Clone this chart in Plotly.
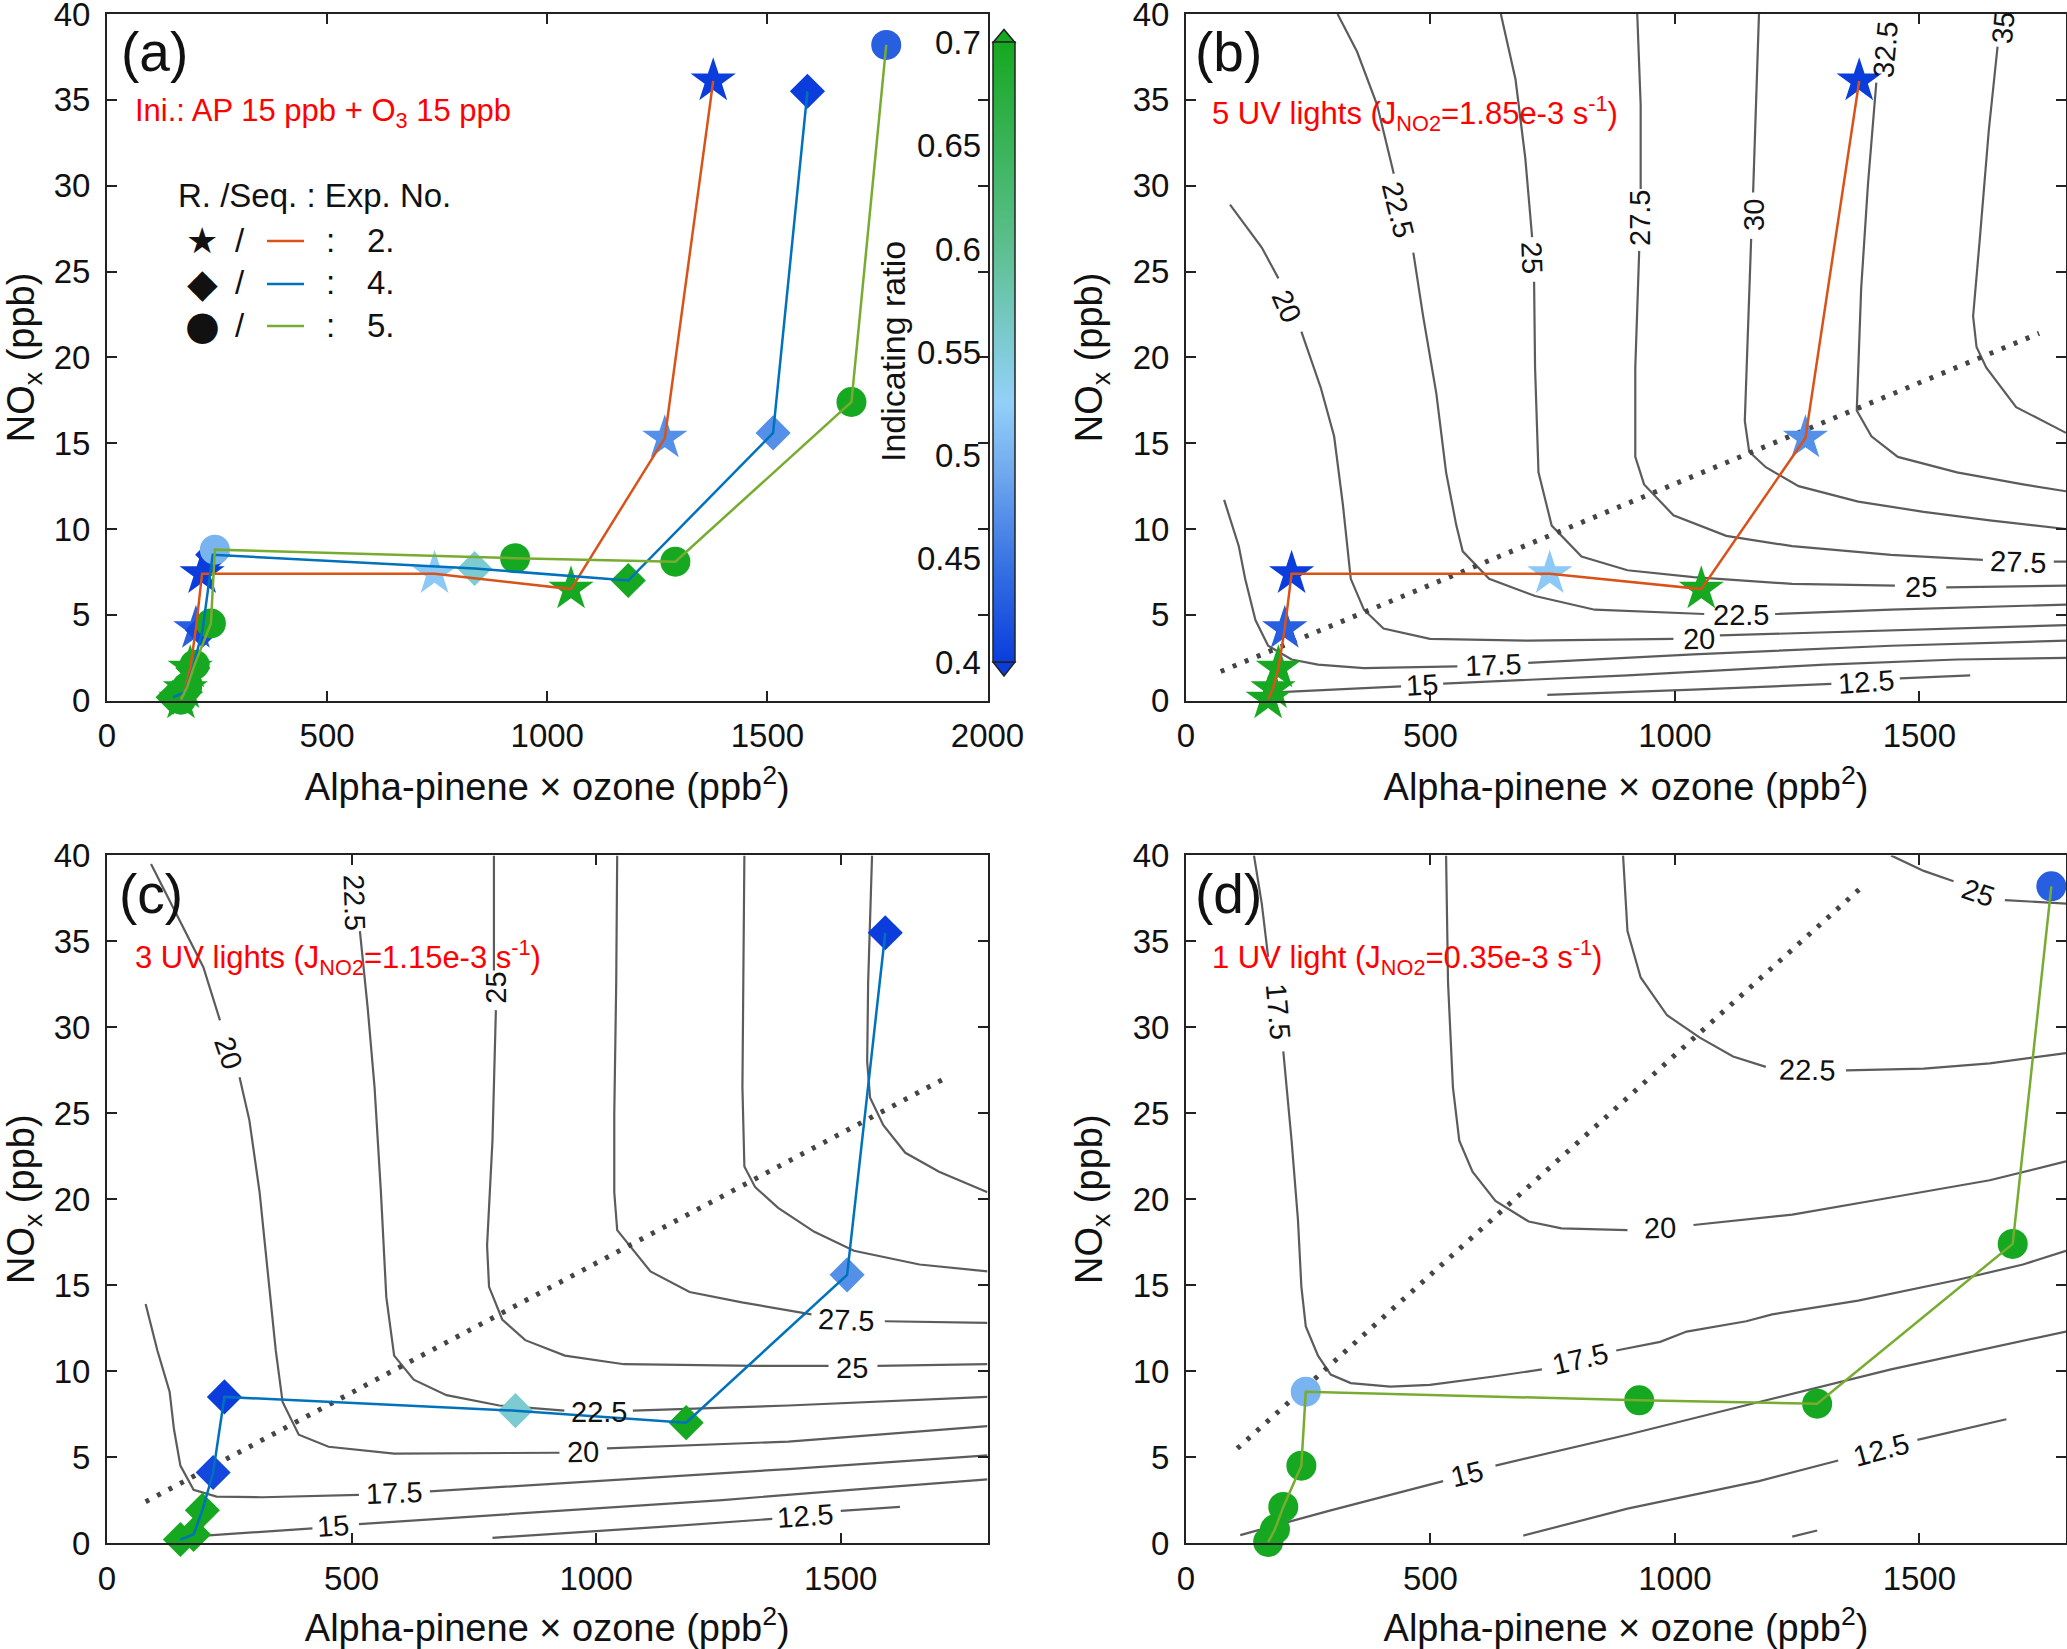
import plotly.graph_objects as go
from plotly.subplots import make_subplots

# ==============================================================================
# Daten
# ==============================================================================
# -- Exp. 2 (Sterne) -----------------------------------------------------------
exp2_x = [168, 178, 189, 202, 216, 744, 1054, 1267, 1377]
exp2_y = [0.1, 0.7, 1.9, 4.2, 7.4, 7.4, 6.5, 15.3, 36.1]
exp2_r = [0.70, 0.70, 0.70, 0.43, 0.40, 0.52, 0.70, 0.47, 0.40]

# -- Exp. 4 (Rauten) -----------------------------------------------------------
exp4_x = [150, 177, 195, 217, 240, 835, 1184, 1513, 1591]
exp4_y = [0.2, 0.5, 1.9, 4.1, 8.5, 7.7, 7.0, 15.6, 35.5]
exp4_r = [0.70, 0.70, 0.70, 0.41, 0.40, 0.555, 0.70, 0.47, 0.40]

# -- Exp. 5 (Kreise) -----------------------------------------------------------
exp5_x = [168, 182, 199, 236, 245, 927, 1291, 1691, 1770]
exp5_y = [0.06, 0.8, 2.1, 4.5, 8.8, 8.3, 8.1, 17.4, 38.2]
exp5_r = [0.70, 0.70, 0.70, 0.70, 0.50, 0.70, 0.70, 0.70, 0.43]

# -- Konturlinien Panel (b) (None = Lücke für Beschriftung) -------------------
b12_x = [739, 1038, 1320, None, 1460, 1604]
b12_y = [0.34, 0.64, 0.98, None, 1.3, 1.47]
b15_x = [168, 440, None, 526, 903, 1307, 1577, 1800]
b15_y = [0.46, 0.84, None, 1.0, 1.47, 2.1, 2.4, 2.5]
b17_x = [78, 108, 121, 142, 168, 216, 270, 364, 555, None, 700, 1038, 1442, 1800]
b17_y = [11.7, 9.0, 7.1, 4.7, 3.2, 2.4, 2.1, 1.9, 2.0, None, 2.2, 2.7, 3.2, 3.5]
b20_x = [90, 155, 189, None, 236, 276, 303, 321, 337, 364, 404, 499, 701, 997, None, 1092, 1442, 1800]
b20_y = [28.9, 26.4, 24.6, None, 21.5, 18.2, 15.4, 11.4, 7.1, 5.3, 4.2, 3.6, 3.5, 3.6, None, 3.8, 4.1, 4.4]
b22_x = [310, 350, 391, 425, None, 465, 485, 512, 532, 553, 566, 620, 714, 836, 1060, None, 1205, 1442, 1800]
b22_y = [40, 37.8, 34.7, 30.7, None, 26.1, 22.4, 17.9, 13.3, 10.2, 8.7, 7.1, 6.1, 5.3, 5.05, None, 5.05, 5.3, 5.6]
b25_x = [644, 674, 694, 708, None, 712, 714, 721, 748, 809, 903, 1038, 1240, 1450, None, 1555, 1800]
b25_y = [40, 36.2, 31.6, 27.0, None, 24.4, 19.4, 13.3, 10.2, 8.4, 7.6, 7.2, 6.8, 6.7, None, 6.6, 6.7]
b27_x = [923, 930, 930, None, 927, 919, 919, 937, 997, 1105, 1240, 1442, 1630, None, 1775, 1800]
b27_y = [40, 34.7, 29.8, None, 26.2, 19.4, 14.2, 12.6, 10.8, 9.6, 9.0, 8.5, 8.2, None, 8.1, 8.1]
b30_x = [1172, 1166, 1160, None, 1156, 1148, 1143, 1152, 1186, 1253, 1375, 1509, 1644, 1800]
b30_y = [40, 34.7, 29.6, None, 26.9, 20.9, 16.3, 14.5, 13.6, 12.5, 11.6, 11.0, 10.5, 10.0]
b32_x = [1412, 1395, 1381, 1375, 1372, 1402, 1456, 1577, 1712, 1800]
b32_y = [36.0, 30.1, 24.0, 19.4, 16.9, 15.4, 14.2, 13.3, 12.6, 12.2]
b35_x = [1660, 1642, 1624, 1610, 1617, 1637, 1698, 1752, 1800]
b35_y = [38.1, 33.2, 27.0, 22.4, 20.6, 19.4, 17.1, 16.3, 15.6]

b_lab_text = ["20", "22.5", "25", "27.5", "30", "32.5", "35", "27.5", "25", "22.5", "20", "17.5", "15", "12.5"]
b_lab_x = [206, 434, 708, 930, 1162, 1431, 1671, 1702, 1503, 1135, 1049, 627, 482, 1391]
b_lab_y = [23.0, 28.6, 25.8, 28.1, 28.3, 37.9, 39.2, 8.1, 6.6, 5.0, 3.6, 2.1, 0.9, 1.1]
b_lab_ang = [66, 76, 88, -90, -90, -85, -85, 2, 0, 0, -1, -2, -3, -4]

b_dot_x = [71, 1745]
b_dot_y = [1.7, 21.4]

# -- Konturlinien Panel (c) ----------------------------------------------------
c12_x = [788, 1124, 1360, None, 1500, 1621]
c12_y = [0.3, 0.92, 1.4, None, 1.87, 2.1]
c15_x = [171, 420, None, 515, 855, 1258, 1527, 1800]
c15_y = [0.37, 0.85, None, 1.1, 1.74, 2.5, 3.1, 3.7]
c17_x = [79, 103, 128, 137, 150, 177, 224, 318, 515, None, 660, 990, 1393, 1800]
c17_y = [13.9, 11.2, 8.8, 6.6, 4.5, 3.1, 2.7, 2.66, 2.8, None, 3.0, 3.6, 4.3, 5.1]
c20_x = [90, 144, 197, 231, None, 271, 291, 312, 329, 345, 359, 392, 453, 587, 925, None, 1022, 1393, 1800]
c20_y = [39.5, 36.5, 33.5, 30.4, None, 27.1, 24.6, 20.4, 15.8, 11.2, 8.2, 6.3, 5.6, 5.2, 5.25, None, 5.5, 5.9, 6.8]
c22_x = [517, 533, 547, 560, 571, 587, 627, 694, 802, 935, None, 1075, 1393, 1800]
c22_y = [35.6, 31.1, 26.5, 20.4, 14.3, 10.9, 9.5, 8.6, 8.0, 7.7, None, 7.7, 8.0, 8.5]
c25_x = [791, 791, None, 795, 788, 777, 781, 808, 855, 936, 1057, 1325, 1475, None, 1575, 1800]
c25_y = [40, 33.3, None, 31.0, 23.4, 17.3, 14.9, 13.0, 11.8, 10.9, 10.4, 10.3, 10.3, None, 10.3, 10.4]
c27_x = [1043, 1041, 1037, 1037, 1043, 1111, 1191, 1298, 1440, None, 1590, 1800]
c27_y = [40, 32.6, 24.9, 20.4, 18.2, 15.8, 14.6, 14.0, 13.3, None, 12.9, 12.8]
c30_x = [1303, 1301, 1299, 1303, 1325, 1372, 1446, 1527, 1661, 1800]
c30_y = [40, 32.6, 26.5, 21.9, 20.7, 19.5, 18.1, 17.0, 16.2, 15.8]
c32_x = [1564, 1556, 1554, 1560, 1587, 1632, 1701, 1800]
c32_y = [40, 32.6, 28.0, 25.9, 24.3, 22.7, 21.6, 20.4]

c_lab_text = ["20", "22.5", "25", "17.5", "15", "20", "22.5", "25", "27.5", "12.5"]
c_lab_x = [248, 506, 795, 587, 463, 974, 1006, 1523, 1511, 1426]
c_lab_y = [28.5, 37.3, 32.3, 2.9, 1.0, 5.3, 7.6, 10.2, 13.0, 1.6]
c_lab_ang = [71, 88, -90, -2, -4, -1, 0, 0, 2, -4]

c_dot_x = [79, 1711]
c_dot_y = [2.4, 27.0]

# -- Konturlinien Panel (d) ----------------------------------------------------
d12_x = [690, 903, 1172, 1334, None, 1496, 1678, None, 1240, 1291]
d12_y = [0.43, 2.0, 3.6, 4.8, None, 6.0, 7.2, None, 0.37, 0.73]
d15_x = [111, 296, 526, None, 633, 903, 1172, 1442, 1800]
d15_y = [0.46, 1.9, 3.6, None, 4.5, 6.3, 8.2, 10.1, 12.3]
d17_x = [139, 155, 168, None, 199, 216, 229, 236, 245, 270, 296, 337, 418, 499, 633, 728, None,
         880, 970, 1024, 1146, 1199, 1375, 1577, 1712, 1800]
d17_y = [40, 37.2, 34.1, None, 28.6, 23.4, 18.8, 14.9, 12.6, 10.9, 9.8, 9.3, 9.1, 9.2, 9.7, 10.1, None,
         11.2, 11.7, 12.3, 12.9, 13.3, 14.1, 15.3, 16.2, 17.0]
d20_x = [532, 536, 546, 559, 586, 633, 701, 768, 903, None, 1038, 1240, 1442, 1644, 1800]
d20_y = [40, 32.6, 26.5, 23.4, 21.6, 19.9, 18.7, 18.3, 18.2, None, 18.5, 19.1, 20.1, 21.1, 22.2]
d22_x = [894, 903, 930, 984, 1051, 1119, 1186, None, 1350, 1509, 1644, 1800]
d22_y = [40, 35.6, 32.9, 30.7, 29.4, 28.3, 27.7, None, 27.5, 27.6, 27.9, 28.5]
d25_x = [1442, 1509, 1570, None, 1675, 1800]
d25_y = [40, 39.1, 38.5, None, 37.4, 37.2]

d_lab_text = ["17.5", "17.5", "15", "12.5", "20", "22.5", "25"]
d_lab_x = [189, 806, 575, 1422, 970, 1270, 1621]
d_lab_y = [30.9, 10.7, 4.0, 5.4, 18.3, 27.5, 37.8]
d_lab_ang = [85, -13, -14, -15, -2, 1, 19]

d_dot_x = [105, 1384]
d_dot_y = [5.5, 38.2]

# -- Farbskala "Indicating ratio" ------------------------------------------------
cb_min, cb_max = 0.4, 0.7
cb_ticks = [0.4, 0.45, 0.5, 0.55, 0.6, 0.65, 0.7]
ratio_scale = [
    [0.00, "#0a3ddc"],
    [0.15, "#3570e2"],
    [0.33, "#78b2f0"],
    [0.42, "#93d0f8"],
    [0.50, "#80ccd8"],
    [0.67, "#5cbf8e"],
    [0.83, "#3ab45a"],
    [1.00, "#16a820"],
]

# MATLAB-Standardfarben für die Verbindungslinien
col_exp2 = "#D95319"
col_exp4 = "#0072BD"
col_exp5 = "#77AC30"

# ==============================================================================
# Plot erstellen
# ==============================================================================
W, H = 2067, 1649
M_L, M_R, M_T, M_B = 107, 1, 14, 106

def px(X):
    """Pixel (x) -> Papierkoordinate"""
    return (X - M_L) / (W - M_L - M_R)

def py(Y):
    """Pixel (y, von oben) -> Papierkoordinate"""
    return (H - M_B - Y) / (H - M_T - M_B)

FONT = "Liberation Sans, Arial, sans-serif"
INK = "#111111"

fig = make_subplots(rows=2, cols=2)

# -- Hilfsfunktionen für die Traces --------------------------------------------
def add_contours(lines, row, col):
    for xs, ys in lines:
        fig.add_trace(go.Scatter(x=xs, y=ys, mode="lines",
                                 line=dict(color="#5c5c5c", width=2.2),
                                 connectgaps=False, hoverinfo="skip",
                                 showlegend=False), row=row, col=col)

def add_dots(xs, ys, row, col):
    fig.add_trace(go.Scatter(x=xs, y=ys, mode="lines",
                             line=dict(color="#454545", width=5, dash="4px,9px"),
                             showlegend=False), row=row, col=col)

def add_exp(xs, ys, rs, symbol, size, color, row, col, scale=False):
    marker = dict(symbol=symbol, size=size, color=rs, colorscale=ratio_scale,
                  cmin=cb_min, cmax=cb_max, line=dict(width=0))
    if scale:
        marker.update(showscale=True, colorbar=dict(
            x=px(993), xanchor="left", y=py(352), yanchor="middle",
            len=619.5, lenmode="pixels", thickness=22, thicknessmode="pixels",
            xpad=0, ypad=0, outlinewidth=1.5, outlinecolor="#222222",
            ticks="", showticklabels=False))
    fig.add_trace(go.Scatter(x=xs, y=ys, mode="markers", marker=marker,
                             cliponaxis=False, showlegend=False), row=row, col=col)
    return go.Scatter(x=xs, y=ys, mode="lines", line=dict(color=color, width=2.5),
                      cliponaxis=False, showlegend=False)

STAR, DIAM, CIRC = 34, 27, 30

# Panel (a): alle drei Experimente
l2 = add_exp(exp2_x, exp2_y, exp2_r, "star", STAR, col_exp2, 1, 1, scale=True)
l4 = add_exp(exp4_x, exp4_y, exp4_r, "diamond", DIAM, col_exp4, 1, 1)
l5 = add_exp(exp5_x, exp5_y, exp5_r, "circle", CIRC, col_exp5, 1, 1)
for ln in (l2, l4, l5):
    fig.add_trace(ln, row=1, col=1)

# Panel (b): 5 UV-Lampen, Exp. 2
add_contours([(b12_x, b12_y), (b15_x, b15_y), (b17_x, b17_y), (b20_x, b20_y),
              (b22_x, b22_y), (b25_x, b25_y), (b27_x, b27_y), (b30_x, b30_y),
              (b32_x, b32_y), (b35_x, b35_y)], 1, 2)
add_dots(b_dot_x, b_dot_y, 1, 2)
fig.add_trace(add_exp(exp2_x, exp2_y, exp2_r, "star", STAR, col_exp2, 1, 2), row=1, col=2)

# Panel (c): 3 UV-Lampen, Exp. 4
add_contours([(c12_x, c12_y), (c15_x, c15_y), (c17_x, c17_y), (c20_x, c20_y),
              (c22_x, c22_y), (c25_x, c25_y), (c27_x, c27_y), (c30_x, c30_y),
              (c32_x, c32_y)], 2, 1)
add_dots(c_dot_x, c_dot_y, 2, 1)
fig.add_trace(add_exp(exp4_x, exp4_y, exp4_r, "diamond", DIAM, col_exp4, 2, 1), row=2, col=1)

# Panel (d): 1 UV-Lampe, Exp. 5
add_contours([(d12_x, d12_y), (d15_x, d15_y), (d17_x, d17_y), (d20_x, d20_y),
              (d22_x, d22_y), (d25_x, d25_y)], 2, 2)
add_dots(d_dot_x, d_dot_y, 2, 2)
fig.add_trace(add_exp(exp5_x, exp5_y, exp5_r, "circle", CIRC, col_exp5, 2, 2), row=2, col=2)

# -- Annotationen --------------------------------------------------------------
ann = []

def contour_labels(texts, xs, ys, angs, xref, yref):
    for t, x, y, a in zip(texts, xs, ys, angs):
        ann.append(dict(text=t, x=x, y=y, xref=xref, yref=yref, textangle=a,
                        showarrow=False, font=dict(family=FONT, size=29, color=INK)))

contour_labels(b_lab_text, b_lab_x, b_lab_y, b_lab_ang, "x2", "y2")
contour_labels(c_lab_text, c_lab_x, c_lab_y, c_lab_ang, "x3", "y3")
contour_labels(d_lab_text, d_lab_x, d_lab_y, d_lab_ang, "x4", "y4")

def paper_text(text, X, Y, size, color=INK, xanchor="left", angle=0, family=FONT):
    ann.append(dict(text=text, x=px(X), y=py(Y), xref="paper", yref="paper",
                    xanchor=xanchor, yanchor="middle", textangle=angle,
                    showarrow=False, font=dict(family=family, size=size, color=color)))

# Panel-Kennungen
for lab, X, Y in [("(a)", 119, 52), ("(b)", 1193, 52), ("(c)", 117, 894), ("(d)", 1193, 894)]:
    paper_text(lab, X, Y, 55)

# Rote Bedingungs-Texte
paper_text("Ini.: AP 15 ppb + O<sub>3</sub> 15 ppb", 133, 113, 31, color="#ff0000")
paper_text("5 UV lights (J<sub>NO2</sub>=1.85e-3 s<sup>-1</sup>)", 1210, 113, 31, color="#ff0000")
paper_text("3 UV lights (J<sub>NO2</sub>=1.15e-3 s<sup>-1</sup>)", 133, 957, 31, color="#ff0000")
paper_text("1 UV light (J<sub>NO2</sub>=0.35e-3 s<sup>-1</sup>)", 1210, 957, 31, color="#ff0000")

# Legende in Panel (a)
paper_text("R. /Seq. : Exp. No.", 176, 195, 33)
for glyph, gsize, yrow, num in [("★", 36, 240, "2."), ("◆", 40, 283, "4."), ("●", 40, 325, "5.")]:
    paper_text(glyph, 202, yrow, gsize, xanchor="center", family="DejaVu Sans")
    paper_text("/", 240, yrow, 33, xanchor="center")
    paper_text(":", 330, yrow, 33, xanchor="center")
    paper_text(num, 365, yrow, 33)

# Farbskala: Beschriftung + Titel
cb_y0, cb_y1 = py(662), py(42.5)
for v in cb_ticks:
    yv = cb_y0 + (v - cb_min) / (cb_max - cb_min) * (cb_y1 - cb_y0)
    ann.append(dict(text=f"{v:g}", x=px(983), y=yv, xref="paper", yref="paper",
                    xanchor="right", yanchor="middle", showarrow=False,
                    font=dict(family=FONT, size=33, color=INK)))
paper_text("Indicating ratio", 893, 352, 34, xanchor="center", angle=-90)

# -- Shapes: Legendenlinien, Farbskalen-Ticks und -Spitzen ---------------------
shapes = []
for yrow, lc in [(240, col_exp2), (283, col_exp4), (325, col_exp5)]:
    shapes.append(dict(type="line", xref="paper", yref="paper",
                       x0=px(267), x1=px(304), y0=py(yrow + 1), y1=py(yrow + 1),
                       line=dict(color=lc, width=2.5)))

for i in range(31):
    v = cb_min + i * 0.01
    yv = cb_y0 + (v - cb_min) / (cb_max - cb_min) * (cb_y1 - cb_y0)
    tl = 13 if i % 5 == 0 else 7
    shapes.append(dict(type="line", xref="paper", yref="paper",
                       x0=px(993), x1=px(993 + tl), y0=yv, y1=yv,
                       line=dict(color="#222222", width=1.5)))

cx0, cx1, cxm = px(993), px(1015), px(1004)
shapes.append(dict(type="path", xref="paper", yref="paper",
                   path=f"M {cx0} {py(42.5)} L {cxm} {py(29.5)} L {cx1} {py(42.5)} Z",
                   fillcolor=ratio_scale[-1][1], line=dict(color="#222222", width=1.5)))
shapes.append(dict(type="path", xref="paper", yref="paper",
                   path=f"M {cx0} {py(662)} L {cxm} {py(676)} L {cx1} {py(662)} Z",
                   fillcolor=ratio_scale[0][1], line=dict(color="#222222", width=1.5)))

# -- Layout --------------------------------------------------------------------
fig.update_layout(
    width=W, height=H,
    margin=dict(l=M_L, r=M_R, t=M_T, b=M_B, autoexpand=False),
    paper_bgcolor="white", plot_bgcolor="white",
    font=dict(family=FONT, color=INK),
    showlegend=False,
    annotations=ann,
    shapes=shapes,
)

axis_style = dict(
    showline=True, linecolor="#222222", linewidth=2, mirror="ticks",
    ticks="inside", ticklen=10, tickwidth=2, tickcolor="#222222",
    showgrid=False, zeroline=False, automargin=False,
    ticklabeloverflow="allow",
    tickfont=dict(family=FONT, size=33, color=INK),
)
x_dom_l, x_dom_r = [0, px(987.5)], [px(1186), 1]
y_dom_t, y_dom_b = [py(700.7), 1], [0, py(855.4)]

fig.update_xaxes(**axis_style, dtick=500, tick0=0, ticklabelstandoff=5,
                 title=dict(text="Alpha-pinene × ozone (ppb<sup>2</sup>)",
                            font=dict(family=FONT, size=38, color=INK), standoff=20))
fig.update_yaxes(**axis_style, range=[0, 40], dtick=5, ticklabelstandoff=8,
                 title=dict(text="NO<sub>x</sub> (ppb)",
                            font=dict(family=FONT, size=38, color=INK), standoff=18))

fig.update_xaxes(range=[0, 2000], domain=x_dom_l, row=1, col=1)
fig.update_xaxes(range=[0, 1800], domain=x_dom_r, row=1, col=2)
fig.update_xaxes(range=[0, 1800], domain=x_dom_l, row=2, col=1)
fig.update_xaxes(range=[0, 1800], domain=x_dom_r, row=2, col=2)
fig.update_yaxes(domain=y_dom_t, row=1)
fig.update_yaxes(domain=y_dom_b, row=2)

# -- Export --------------------------------------------------------------------
fig.write_html("out.html", config={"displayModeBar": False},
               post_script="document.body.style.margin='0';document.body.style.overflow='hidden';")
